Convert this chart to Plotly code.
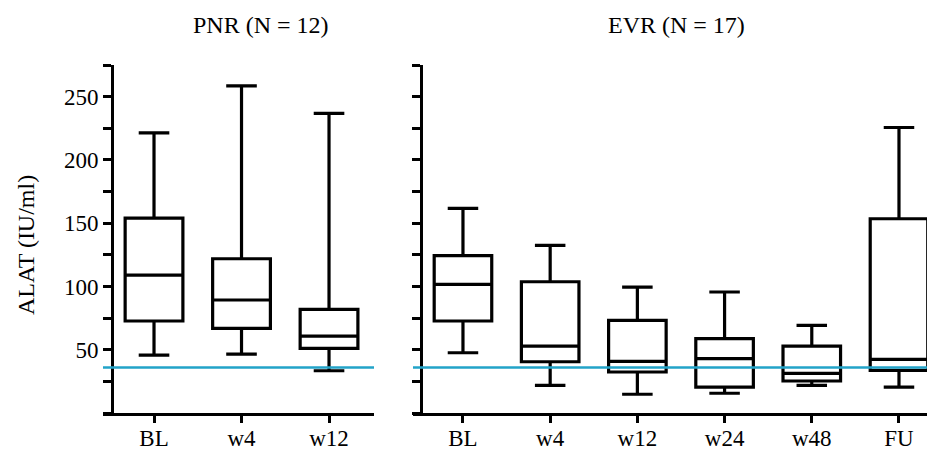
import plotly.graph_objects as go

# ---- data (ALAT, IU/ml) ----
pnr_cats = ["BL", "w4", "w12"]
pnr_low = [45.8, 46.6, 33.4]
pnr_q1 = [72.7, 66.9, 51.1]
pnr_med = [109.0, 89.3, 60.8]
pnr_q3 = [154.0, 121.9, 81.9]
pnr_high = [221.4, 258.5, 236.7]

evr_cats = ["BL", "w4", "w12", "w24", "w48", "FU"]
evr_low = [47.6, 21.9, 14.8, 15.6, 21.9, 20.5]
evr_q1 = [72.7, 40.5, 32.4, 20.5, 25.3, 33.7]
evr_med = [101.6, 52.9, 40.8, 42.9, 31.3, 42.4]
evr_q3 = [124.3, 103.7, 73.2, 58.7, 52.9, 153.5]
evr_high = [161.7, 132.4, 99.5, 95.6, 69.3, 225.6]

uln = 36
y_ticks = [50, 100, 150, 200, 250]

OFF = 8  # default page body margin
W, H = 935 - OFF, 463 - OFF
FONT = "Liberation Serif"


def px(p):
    return (p - OFF) / W


TOP, BOT = 65 - OFF, 413 - OFF
plot_h = BOT - TOP


def py(p):
    return ((BOT + OFF) - p) / plot_h


fig = go.Figure()

box_style = dict(
    line=dict(color="black", width=3.2),
    fillcolor="rgba(255,255,255,0)",
    width=0.66,
    whiskerwidth=0.53,
    boxpoints=False,
    hoverinfo="skip",
    showlegend=False,
)

fig.add_trace(go.Box(x=pnr_cats, q1=pnr_q1, median=pnr_med, q3=pnr_q3,
                     lowerfence=pnr_low, upperfence=pnr_high,
                     xaxis="x", yaxis="y", **box_style))
fig.add_trace(go.Box(x=evr_cats, q1=evr_q1, median=evr_med, q3=evr_q3,
                     lowerfence=evr_low, upperfence=evr_high,
                     xaxis="x2", yaxis="y2", **box_style))

xcommon = dict(
    type="category", showline=True, linecolor="black", linewidth=3,
    ticks="outside", ticklen=7, tickwidth=3, tickcolor="black",
    showgrid=False, zeroline=False,
    tickfont=dict(family=FONT, size=23, color="black"),
    ticklabelstandoff=-5,
)
ycommon = dict(
    range=[0, 275], showline=True, linecolor="black", linewidth=3,
    tickvals=y_ticks, ticks="outside", ticklen=8, tickwidth=3, tickcolor="black",
    minor=dict(tick0=0, dtick=25, ticks="outside", ticklen=8, tickwidth=3,
               tickcolor="black", showgrid=False),
    showgrid=False, zeroline=False, anchor="free",
    tickfont=dict(family=FONT, size=23, color="black"),
)

fig.update_layout(
    width=W, height=H,
    margin=dict(l=0, r=0, t=TOP, b=H - BOT),
    paper_bgcolor="white", plot_bgcolor="white",
    showlegend=False,
    xaxis=dict(domain=[px(103), px(374)], range=[-0.583, 2.514],
               categoryorder="array", categoryarray=pnr_cats, anchor="y", **xcommon),
    xaxis2=dict(domain=[px(413), 1.0], range=[-0.573, 5.413],
                categoryorder="array", categoryarray=evr_cats, anchor="y2", **xcommon),
    yaxis=dict(domain=[0, 1], position=px(112), **ycommon),
    yaxis2=dict(domain=[0, 1], position=px(421), showticklabels=False, **ycommon),
)

for xr, yr in [("x domain", "y"), ("x2 domain", "y2")]:
    fig.add_shape(type="line", xref=xr, yref=yr,
                  x0=0, x1=1, y0=uln, y1=uln,
                  line=dict(color="#22a3c8", width=2.5), layer="above")

fig.add_annotation(text="PNR (N = 12)", x=px(261), y=py(25), xref="paper", yref="paper",
                   showarrow=False, xanchor="center", yanchor="middle",
                   font=dict(family=FONT, size=24, color="black"))
fig.add_annotation(text="EVR (N = 17)", x=px(676), y=py(25), xref="paper", yref="paper",
                   showarrow=False, xanchor="center", yanchor="middle",
                   font=dict(family=FONT, size=24, color="black"))
fig.add_annotation(text="ALAT (IU/ml)", x=px(26), y=py(245), xref="paper", yref="paper",
                   showarrow=False, xanchor="center", yanchor="middle", textangle=-90,
                   font=dict(family=FONT, size=24, color="black"))

fig.write_html("out.html")
